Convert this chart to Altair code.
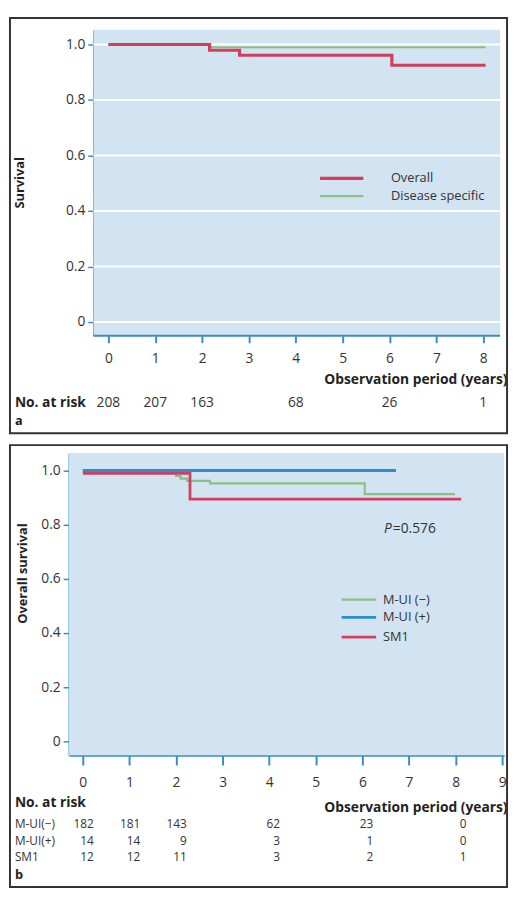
import altair as alt
import pandas as pd

FONT = "Open Sans"
BG = "#d2e4f2"
AXBLUE = "#3a8cc4"
RED = "#d23f5e"
GREEN = "#8dbf84"
BLUE = "#2b8dc9"
TXT = "#333333"
FS = 14

# ---------------- Panel a data ----------------
a_overall_t = [0, 2.16, 2.8, 6.05, 8.05]
a_overall_s = [1.0, 0.979, 0.961, 0.925, 0.925]
a_ds_t = [0, 2.16, 8.05]
a_ds_s = [1.0, 0.99, 0.99]
a_risk_t = [0, 1, 2, 4, 6, 8]
a_risk_n = [208, 207, 163, 68, 26, 1]
a_legend = ["Overall", "Disease specific"]

# ---------------- Panel b data ----------------
b_neg_t = [0, 1.88, 2.0, 2.1, 2.24, 2.73, 6.05, 7.99]
b_neg_s = [1.0, 0.99, 0.98, 0.97, 0.962, 0.953, 0.913, 0.913]
b_pos_t = [0, 6.72]
b_pos_s = [1.0, 1.0]
b_sm1_t = [0, 2.3, 8.12]
b_sm1_s = [0.99, 0.895, 0.895]
b_risk_t = [0, 1, 2, 4, 6, 8]
b_risk_neg = [182, 181, 143, 62, 23, 0]
b_risk_pos = [14, 14, 9, 3, 1, 0]
b_risk_sm1 = [12, 12, 11, 3, 2, 1]
b_groups = ["M-UI(−)", "M-UI(+)", "SM1"]
b_legend = ["M-UI (−)", "M-UI (+)", "SM1"]

y_ticks = [0, 0.2, 0.4, 0.6, 0.8, 1.0]
one = pd.DataFrame({"k": [0]})

# plotting-region limits (years / survival)
A_X = [-0.315, 8.361]
A_Y = [-0.05, 1.053]
B_X = [-0.296, 9.04]
B_Y = [-0.051, 1.065]


def x_enc(domain, ticks, title_x, title_y, pad, tick, show_domain=True):
    return alt.X(
        "t:Q",
        scale=alt.Scale(domain=domain, nice=False, zero=False),
        axis=alt.Axis(
            values=ticks, grid=False, domain=show_domain, domainColor=AXBLUE, domainWidth=2,
            tickColor=AXBLUE, tickWidth=2, tickSize=tick, labelPadding=pad,
            labelFont=FONT, labelFontSize=FS, labelColor=TXT, labelFlush=False,
            title="Observation period (years)", titleFont=FONT, titleFontSize=FS,
            titleFontWeight="bold", titleColor="#222222", titleX=title_x,
            titleY=title_y, titleAlign="right", titleBaseline="middle",
        ),
    )


def y_enc(domain, title, title_x, title_y, grid=True, offset=0):
    return alt.Y(
        "s:Q",
        scale=alt.Scale(domain=domain, nice=False, zero=False),
        axis=alt.Axis(
            values=y_ticks, grid=grid, gridColor="white", gridWidth=2, offset=offset,
            domainColor=AXBLUE, domainWidth=2, tickColor=AXBLUE, tickWidth=1.5,
            tickSize=6, labelPadding=3, labelFont=FONT, labelFontSize=FS,
            labelColor=TXT,
            labelExpr="datum.value == 0 ? '0' : format(datum.value, '.1f')",
            title=title, titleFont=FONT, titleFontSize=13, titleFontWeight="bold",
            titleColor="#222222", titleX=title_x, titleY=title_y,
            titleAlign="center", titleBaseline="middle", titleAngle=270,
        ),
    )


def frame(x1, x2, y1, y2):
    return alt.Chart(one).mark_rect(fillOpacity=0, stroke="#333333", strokeWidth=2).encode(
        x=alt.value(x1), x2=alt.value(x2), y=alt.value(y1), y2=alt.value(y2)
    )


def label(text, x, y, size=FS, weight="normal", align="left", style="normal", color=TXT):
    return alt.Chart(one).mark_text(
        text=text, align=align, baseline="middle", font=FONT, fontSize=size,
        fontWeight=weight, fontStyle=style, color=color,
    ).encode(x=alt.value(x), y=alt.value(y))


def key(x1, x2, y, color, width):
    return alt.Chart(one).mark_rule(color=color, strokeWidth=width).encode(
        x=alt.value(x1), x2=alt.value(x2), y=alt.value(y)
    )


def curve(ts, ss, color, width, X, Y):
    df = pd.DataFrame({"t": ts, "s": ss})
    return alt.Chart(df).mark_line(interpolate="step-after", color=color, strokeWidth=width).encode(x=X, y=Y)


def background(xlim, ylim, X, Y):
    df = pd.DataFrame({"t": [xlim[0]], "t2": [xlim[1]], "s": [ylim[0]], "s2": [ylim[1]]})
    return alt.Chart(df).mark_rect(color=BG).encode(x=X, x2="t2:Q", y=Y, y2="s2:Q")


def hlines(xlim, values, color, width, X, Y):
    df = pd.DataFrame({"t": [xlim[0]] * len(values), "t2": [xlim[1]] * len(values), "s": values})
    return alt.Chart(df).mark_rule(color=color, strokeWidth=width).encode(x=X, x2="t2:Q", y=Y)


# ---------------- Panel a ----------------
# the view shares panel b's left edge; its plotting region starts 25px further right
XA = x_enc([-0.840, A_X[1]], list(range(0, 9)), 445, 44, pad=9, tick=7, show_domain=False)
YA = y_enc(A_Y, "Survival", -75, 155, grid=False, offset=-25)

risk_a = pd.DataFrame({"t": a_risk_t, "n": a_risk_n})
panel_a = alt.layer(
    background(A_X, A_Y, XA, YA),
    hlines(A_X, y_ticks, "white", 2, XA, YA),
    hlines(A_X, [A_Y[0]], AXBLUE, 2, XA, YA),
    frame(-60, 445, -12, 410),
    curve(a_ds_t, a_ds_s, GREEN, 2.2, XA, YA),
    curve(a_overall_t, a_overall_s, RED, 3.2, XA, YA),
    key(255, 299, 151, RED, 3.2),
    key(255, 299, 169, GREEN, 2.2),
    label(a_legend[0], 327, 151, size=13),
    label(a_legend[1], 327, 169, size=13),
    label("No. at risk", -55, 379, weight="bold", color="#222222"),
    alt.Chart(risk_a).mark_text(font=FONT, fontSize=FS, color=TXT, baseline="middle").encode(
        x=XA, y=alt.value(379), text="n:Q"
    ),
    label("a", -55, 398, size=13, weight="bold", color="#222222"),
).properties(width=438, height=311)

# ---------------- Panel b ----------------
XB = x_enc(B_X, list(range(0, 10)), 445, 53, pad=11, tick=10)
YB = y_enc(B_Y, "Overall survival", -47, 122)

risk_rows = [b_risk_neg, b_risk_pos, b_risk_sm1]
row_y = [377, 394, 411]
risk_layers = []
for name, vals, yy in zip(b_groups, risk_rows, row_y):
    dfr = pd.DataFrame({"t": b_risk_t, "n": vals})
    risk_layers.append(label(name, -55, yy, size=12))
    risk_layers.append(
        alt.Chart(dfr).mark_text(font=FONT, fontSize=12, color=TXT, align="right", dx=11, baseline="middle").encode(
            x=XB, y=alt.value(yy), text="n:Q"
        )
    )

panel_b = alt.layer(
    background(B_X, B_Y, XB, YB),
    frame(-60, 445, -8, 441),
    curve(b_neg_t, b_neg_s, GREEN, 2.2, XB, YB),
    curve(b_sm1_t, b_sm1_s, RED, 2.8, XB, YB),
    curve(b_pos_t, b_pos_s, BLUE, 3.0, XB, YB),
    key(277, 312, 149, GREEN, 2.2),
    key(277, 312, 167, BLUE, 3.0),
    key(277, 312, 187, RED, 2.8),
    label(b_legend[0], 319, 149, size=13),
    label(b_legend[1], 319, 167, size=13),
    label(b_legend[2], 319, 187, size=13),
    label("P", 320, 77, style="italic"),
    label("=0.576", 329, 77),
    label("No. at risk", -55, 356, weight="bold", color="#222222"),
    *risk_layers,
    label("b", -55, 429, size=13, weight="bold", color="#222222"),
).properties(width=442, height=307)

chart = alt.vconcat(panel_a, panel_b, spacing=10).properties(
    padding={"left": 1, "top": 2, "right": 1, "bottom": 1}
).configure_view(fill="transparent", strokeWidth=0)

chart.save("out.html", embed_options={"renderer": "svg", "actions": False})
